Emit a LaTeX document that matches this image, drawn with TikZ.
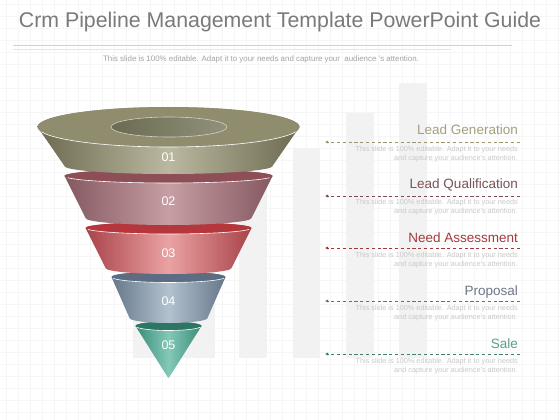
\documentclass[tikz,border=0pt]{standalone}
\usepackage{fontspec}
\setmainfont{Liberation Sans}
\usetikzlibrary{arrows.meta}
\definecolor{titlec}{HTML}{7A7A7A}
\definecolor{subc}{HTML}{A4A4A4}
\definecolor{descc}{HTML}{C9C9C9}
\definecolor{gridc}{HTML}{F6F6F6}
\definecolor{barc}{HTML}{F2F2F2}
% olive
\definecolor{olD}{HTML}{6C6A50}\definecolor{olL}{HTML}{BAB8A0}\definecolor{olF}{HTML}{8F8D6E}\definecolor{olH}{HTML}{77765B}
\definecolor{olT}{HTML}{A39F7E}\definecolor{olA}{HTML}{9A9570}
% mauve
\definecolor{maD}{HTML}{855860}\definecolor{maL}{HTML}{C69EA3}\definecolor{maF}{HTML}{8E4E56}
\definecolor{maT}{HTML}{7B5257}\definecolor{maA}{HTML}{7B4C53}
% red
\definecolor{reD}{HTML}{A9434A}\definecolor{reL}{HTML}{EAA2A2}\definecolor{reF}{HTML}{B5363B}
\definecolor{reT}{HTML}{A3393D}\definecolor{reA}{HTML}{983A3E}
% blue grey
\definecolor{blD}{HTML}{66778B}\definecolor{blL}{HTML}{B2C2CE}\definecolor{blF}{HTML}{5C6C82}
\definecolor{blT}{HTML}{6F7686}\definecolor{blA}{HTML}{676D7A}
% teal
\definecolor{teD}{HTML}{3A8C78}\definecolor{teL}{HTML}{84C8B8}\definecolor{teF}{HTML}{2E7664}
\definecolor{teT}{HTML}{5F9E8C}\definecolor{teA}{HTML}{3E7E6A}
\tikzset{
  numtext/.style={text=white, font=\fontsize{12.5}{12.5}\selectfont, inner sep=0pt},
  labtext/.style={anchor=east, inner sep=0pt, font=\fontsize{13.5}{14}\selectfont},
  desctext/.style={anchor=north east, align=right, inner sep=0pt, text=descc,
     font=\fontsize{7.3}{8.6}\selectfont},
  dashline/.style={line width=0.9pt, dash pattern=on 3.2pt off 2.6pt,
     -{Latex[length=3.2pt,width=3.4pt]}},
  barbox/.style={fill=barc, draw=none}
}
\newcommand{\funnelseg}[9]{%
  \shade[left color=#7, right color=#7, middle color=#8]
    (168.5-#2,#1) -- (168.5-#5,#4)
    arc[start angle=180,end angle=360,x radius=#5pt,y radius=#6pt]
    -- (168.5+#2,#1)
    arc[start angle=0,end angle=180,x radius=#2pt,y radius=#3pt] -- cycle;
  \fill[#9] (168.5,#1) ellipse[x radius=#2pt, y radius=#3pt];
  \draw[white, line width=0.6pt] (168.5,#1) ++(194:#2pt and #3pt)
    arc[start angle=194,end angle=346,x radius=#2pt,y radius=#3pt];
}
\begin{document}
\begin{tikzpicture}[x=1pt,y=-1pt]
\useasboundingbox (0,0) rectangle (560,420);
\fill[white] (0,0) rectangle (560,420);
% grid
\foreach \gx in {6,18,...,560} \draw[gridc, line width=0.4pt] (\gx,0) -- (\gx,420);
\foreach \gy in {4,16,...,420} \draw[gridc, line width=0.4pt] (0,\gy) -- (560,\gy);
% background bars
\fill[barc] (133,250) rectangle (215,358);
\fill[barc] (239,183) rectangle (267,358);
\fill[barc] (293,148) rectangle (320,358);
\fill[barc] (346,113) rectangle (374,358);
\fill[barc] (399,83) rectangle (427,358);
% title
\node[text=titlec, font=\fontsize{21.3}{22}\selectfont, inner sep=0pt] (title) at (280,22)
  {Crm Pipeline Management Template PowerPoint Guide};
\draw[black!18, line width=0.6pt] (13,45) -- (512,45);
\draw[black!10, line width=0.6pt] (13,49) -- (450,49);
\node[text=subc, font=\fontsize{7.9}{8}\selectfont, inner sep=0pt] (subtitle) at (261,59)
  {This slide is 100\% editable. Adapt it to your needs and capture your \ audience 's attention.};
% funnel (drawn bottom-up)
\shade[left color=teD, right color=teD, middle color=teL]
  (135.5,326) -- (167,376) .. controls (168.5,378.5) .. (170,376) -- (201.5,326)
  arc[start angle=0,end angle=180,x radius=33pt,y radius=4.5pt] -- cycle;
\fill[teF] (168.5,326) ellipse[x radius=33pt, y radius=4.5pt];
\draw[white, line width=0.6pt] (168.5,326) ++(194:33pt and 4.5pt)
  arc[start angle=194,end angle=346,x radius=33pt,y radius=4.5pt];
\funnelseg{277}{57}{5.5}{318}{39}{5}{blD}{blL}{blF}
\funnelseg{228}{83}{6}{268}{63}{6}{reD}{reL}{reF}
\funnelseg{176}{104}{7}{218}{83}{7}{maD}{maL}{maF}
\funnelseg{127}{131}{20}{166}{104}{8}{olD}{olL}{olF}
\shade[left color=olH!90!black, right color=olH!80!white] (169,127) ellipse[x radius=58pt, y radius=10pt];
\draw[white!60!olF, line width=0.6pt] (169,127) ellipse[x radius=58pt, y radius=10pt];
% numbers
\node[numtext] (n1) at (168.5,157) {01};
\node[numtext] (n2) at (168.5,201) {02};
\node[numtext] (n3) at (168.5,253) {03};
\node[numtext] (n4) at (168.5,301) {04};
\node[numtext] (n5) at (168.5,345) {05};
% labels
\node[labtext, text=olT] (l1) at (518,130) {Lead Generation};
\node[labtext, text=maT] (l2) at (518,185) {Lead Qualification};
\node[labtext, text=reT] (l3) at (518,238) {Need Assessment};
\node[labtext, text=blT] (l4) at (518,292) {Proposal};
\node[labtext, text=teT] (l5) at (518,344) {Sale};
% dashed arrows
\coordinate (r1) at (520,142); \coordinate (e1) at (325,142);
\coordinate (r2) at (520,196); \coordinate (e2) at (325,196);
\coordinate (r3) at (520,248); \coordinate (e3) at (325,248);
\coordinate (r4) at (520,301); \coordinate (e4) at (325,301);
\coordinate (r5) at (520,354); \coordinate (e5) at (325,354);
\draw[dashline, olA] (r1) -- (e1);
\draw[dashline, maA] (r2) -- (e2);
\draw[dashline, reA] (r3) -- (e3);
\draw[dashline, blA] (r4) -- (e4);
\draw[dashline, teA] (r5) -- (e5);
% descriptions
\node[desctext] (d1) at (518,146) {This slide is 100\% editable. Adapt it to your needs\\and capture your audience's attention.};
\node[desctext] (d2) at (518,199) {This slide is 100\% editable. Adapt it to your needs\\and capture your audience's attention.};
\node[desctext] (d3) at (518,252) {This slide is 100\% editable. Adapt it to your needs\\and capture your audience's attention.};
\node[desctext] (d4) at (518,305) {This slide is 100\% editable. Adapt it to your needs\\and capture your audience's attention.};
\node[desctext] (d5) at (518,358) {This slide is 100\% editable. Adapt it to your needs\\and capture your audience's attention.};
\end{tikzpicture}
\end{document}
